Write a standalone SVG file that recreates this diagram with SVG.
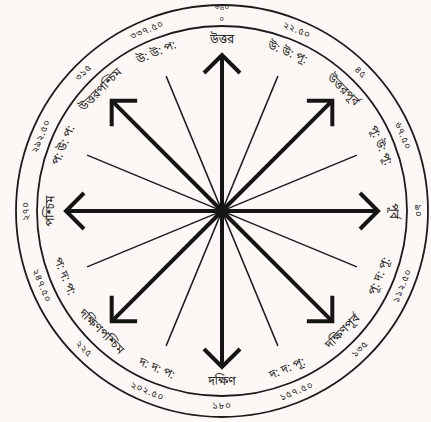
<svg xmlns="http://www.w3.org/2000/svg" width="431" height="422" viewBox="0 0 431 422">
<style>
.ring{fill:none;stroke:#1c1c1c;stroke-width:1.8}
.arrow{fill:none;stroke:#151515;stroke-width:4;stroke-linejoin:miter}
.thin{stroke:#1c1c1c;stroke-width:1.5}
.lbl{font-family:"Noto Sans Bengali","Noto Sans",sans-serif;font-size:12px;fill:#2a2a2a;text-anchor:middle;dominant-baseline:central}
.num{font-family:"Noto Sans Bengali","Noto Sans",sans-serif;font-size:9.5px;fill:#2a2a2a;text-anchor:middle;dominant-baseline:central;letter-spacing:0.8px}
.top{font-size:7.5px;letter-spacing:0.5px}
</style>
<defs>
<g id="arrowShape">
<line x1="222" y1="211" x2="222" y2="55"/>
<path d="M204 73 L222 55 L240 73"/>
</g>
</defs>
<rect width="431" height="422" fill="#fdf8f5"/>
<g id="rings">
<circle class="ring" cx="222" cy="211" r="206"/>
<circle class="ring" cx="222" cy="211" r="185"/>
</g>
<g id="connectors">
<g class="thin">
<line x1="222" y1="65" x2="222" y2="357" transform="rotate(22.5 222 211)"/>
<line x1="222" y1="65" x2="222" y2="357" transform="rotate(67.5 222 211)"/>
<line x1="222" y1="65" x2="222" y2="357" transform="rotate(112.5 222 211)"/>
<line x1="222" y1="65" x2="222" y2="357" transform="rotate(157.5 222 211)"/>
</g>
<g class="arrow">
<use href="#arrowShape"/>
<use href="#arrowShape" transform="rotate(45 222 211)"/>
<use href="#arrowShape" transform="rotate(90 222 211)"/>
<use href="#arrowShape" transform="rotate(135 222 211)"/>
<use href="#arrowShape" transform="rotate(180 222 211)"/>
<use href="#arrowShape" transform="rotate(225 222 211)"/>
<use href="#arrowShape" transform="rotate(270 222 211)"/>
<use href="#arrowShape" transform="rotate(315 222 211)"/>
</g>
</g>
<g id="labels">
<text class="lbl" x="222" y="40">উত্তর</text>
<text class="lbl" x="222" y="40" transform="rotate(22.5 222 211)">উ: উ: পূ:</text>
<text class="lbl" x="222" y="40" transform="rotate(45 222 211)">উত্তরপূর্ব</text>
<text class="lbl" x="222" y="40" transform="rotate(67.5 222 211)">পূ: উ: পূ:</text>
<text class="lbl" x="222" y="40" transform="rotate(90 222 211)">পূর্ব</text>
<text class="lbl" x="222" y="382" transform="rotate(-67.5 222 211)">পূ: দ: পূ:</text>
<text class="lbl" x="222" y="382" transform="rotate(-45 222 211)">দক্ষিণপূর্ব</text>
<text class="lbl" x="222" y="382" transform="rotate(-22.5 222 211)">দ: দ: পূ:</text>
<text class="lbl" x="222" y="382">দক্ষিণ</text>
<text class="lbl" x="222" y="382" transform="rotate(22.5 222 211)">দ: দ: প:</text>
<text class="lbl" x="222" y="382" transform="rotate(45 222 211)">দক্ষিণপশ্চিম</text>
<text class="lbl" x="222" y="382" transform="rotate(67.5 222 211)">প: দ: প:</text>
<text class="lbl" x="222" y="40" transform="rotate(-90 222 211)">পশ্চিম</text>
<text class="lbl" x="222" y="40" transform="rotate(-67.5 222 211)">প: উ: প:</text>
<text class="lbl" x="222" y="40" transform="rotate(-45 222 211)">উত্তরপশ্চিম</text>
<text class="lbl" x="222" y="40" transform="rotate(-22.5 222 211)">উ: উ: প:</text>
</g>
<g id="degrees">
<text class="num top" x="222" y="8">৩৬০</text>
<text class="num top" x="222" y="20">০</text>
<text class="num" x="222" y="15.5" transform="rotate(22.5 222 211)">২২.৫০</text>
<text class="num" x="222" y="15.5" transform="rotate(45 222 211)">৪৫</text>
<text class="num" x="222" y="15.5" transform="rotate(67.5 222 211)">৬৭.৫০</text>
<text class="num" x="222" y="15.5" transform="rotate(90 222 211)">৯০</text>
<text class="num" x="222" y="406.5" transform="rotate(-67.5 222 211)">১১২.৫০</text>
<text class="num" x="222" y="406.5" transform="rotate(-45 222 211)">১৩৫</text>
<text class="num" x="222" y="406.5" transform="rotate(-22.5 222 211)">১৫৭.৫০</text>
<text class="num" x="222" y="406.5">১৮০</text>
<text class="num" x="222" y="406.5" transform="rotate(22.5 222 211)">২০২.৫০</text>
<text class="num" x="222" y="406.5" transform="rotate(45 222 211)">২২৫</text>
<text class="num" x="222" y="406.5" transform="rotate(67.5 222 211)">২৪৭.৫০</text>
<text class="num" x="222" y="15.5" transform="rotate(-90 222 211)">২৭০</text>
<text class="num" x="222" y="15.5" transform="rotate(-67.5 222 211)">২৯২.৫০</text>
<text class="num" x="222" y="15.5" transform="rotate(-45 222 211)">৩১৫</text>
<text class="num" x="222" y="15.5" transform="rotate(-22.5 222 211)">৩৩৭.৫০</text>
</g>
</svg>
